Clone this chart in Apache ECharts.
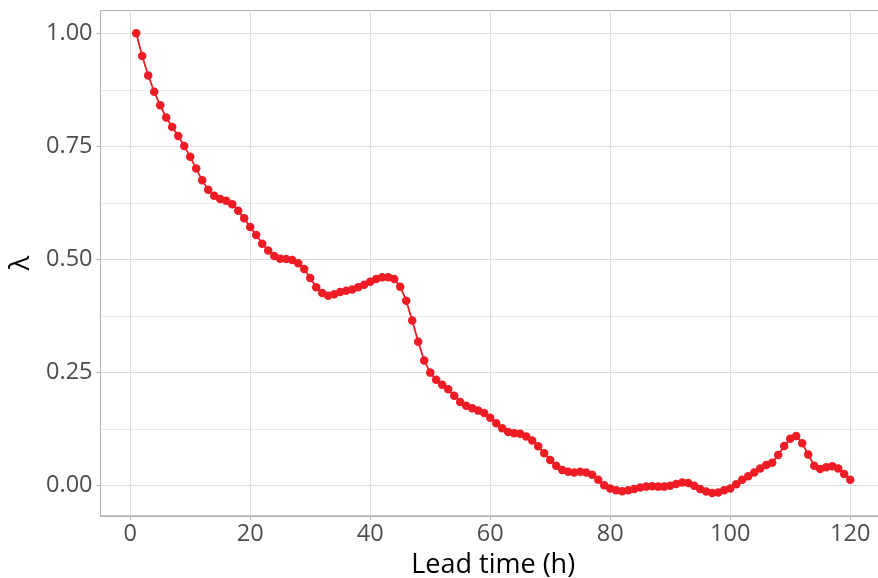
<!DOCTYPE html>
<html>
<head>
<meta charset="utf-8">
<script src="https://cdn.jsdelivr.net/npm/echarts@6/dist/echarts.min.js"></script>
<style>
html,body{margin:0;padding:0;background:#fff;}
#c{width:878px;height:578px;}
</style>
</head>
<body>
<div id="c"></div>
<script>
var leadTime = [];
for (var i = 1; i <= 120; i++) leadTime.push(i);
var lambda = [
  1.000, 0.950, 0.907, 0.871, 0.841, 0.814, 0.793, 0.773, 0.751, 0.727,
  0.701, 0.675, 0.654, 0.641, 0.634, 0.630, 0.622, 0.608, 0.591, 0.572,
  0.554, 0.535, 0.520, 0.508, 0.502, 0.501, 0.499, 0.492, 0.479, 0.459,
  0.439, 0.426, 0.420, 0.423, 0.428, 0.431, 0.434, 0.439, 0.444, 0.451,
  0.457, 0.461, 0.461, 0.457, 0.440, 0.409, 0.365, 0.318, 0.277, 0.250,
  0.234, 0.223, 0.213, 0.199, 0.185, 0.177, 0.171, 0.166, 0.161, 0.150,
  0.138, 0.127, 0.119, 0.116, 0.115, 0.109, 0.100, 0.087, 0.072, 0.057,
  0.044, 0.035, 0.031, 0.029, 0.031, 0.029, 0.024, 0.013, 0.001, -0.006,
  -0.010, -0.012, -0.010, -0.007, -0.004, -0.002, -0.001, -0.002, -0.002, 0.000,
  0.004, 0.007, 0.006, 0.000, -0.007, -0.013, -0.016, -0.015, -0.010, -0.006,
  0.003, 0.013, 0.021, 0.029, 0.038, 0.046, 0.051, 0.068, 0.088, 0.104,
  0.110, 0.094, 0.069, 0.044, 0.037, 0.041, 0.043, 0.038, 0.026, 0.013
];
var xTicks = [0, 20, 40, 60, 80, 100, 120];
var yTicks = [0, 0.25, 0.5, 0.75, 1.0];
var yMinorTicks = [0.125, 0.375, 0.625, 0.875];

var pts = leadTime.map(function (t, i) { return [t, lambda[i]]; });
var FONT = '"Open Sans", sans-serif';
var chart = echarts.init(document.getElementById('c'), null, {renderer: 'canvas'});
var yMin = -0.0665, yMax = 1.0505;
chart.setOption({
  animation: false,
  backgroundColor: '#ffffff',
  grid: {
    left: 100.5, top: 10.5, width: 785.4, height: 505.3,
    outerBoundsMode: 'none', containLabel: false,
    show: true, borderColor: '#b3b3b3', borderWidth: 1, backgroundColor: 'transparent'
  },
  xAxis: {
    type: 'value', min: -4.95, max: 125.95,
    name: 'Lead time (h)', nameLocation: 'middle', nameGap: 31,
    nameTextStyle: {color: '#000', fontSize: 27, fontFamily: FONT},
    axisLine: {show: true, onZero: false, lineStyle: {color: '#b3b3b3', width: 1}},
    axisTick: {show: true, length: 4, customValues: xTicks, lineStyle: {color: '#b3b3b3'}},
    axisLabel: {customValues: xTicks, color: '#4d4d4d', fontSize: 23.5, fontFamily: FONT, margin: 7},
    splitLine: {show: true, lineStyle: {color: '#dedede', width: 1}}
  },
  yAxis: [{
    type: 'value', min: yMin, max: yMax,
    name: 'λ', nameLocation: 'middle', nameGap: 65, nameRotate: 90,
    nameTextStyle: {color: '#000', fontSize: 27, fontFamily: FONT},
    axisLine: {show: true, onZero: false, lineStyle: {color: '#b3b3b3', width: 1}},
    axisTick: {show: true, length: 4, customValues: yTicks, lineStyle: {color: '#b3b3b3'}},
    axisLabel: {customValues: yTicks, color: '#4d4d4d', fontSize: 23.5, fontFamily: FONT, margin: 8,
      formatter: function (v) { return v.toFixed(2); }},
    splitLine: {show: true, lineStyle: {color: '#dedede', width: 1}}
  }, {
    type: 'value', min: yMin, max: yMax, position: 'left',
    axisLine: {show: false}, axisTick: {show: false, customValues: yMinorTicks},
    axisLabel: {show: false, customValues: yMinorTicks},
    splitLine: {show: true, lineStyle: {color: '#e8e8e8', width: 1}}
  }],
  series: [{
    type: 'line', data: pts, yAxisIndex: 0,
    symbol: 'circle', symbolSize: 8.5, showSymbol: true,
    lineStyle: {color: '#ee1c25', width: 1.8},
    itemStyle: {color: '#ee1c25'}
  }]
});
</script>
</body>
</html>
